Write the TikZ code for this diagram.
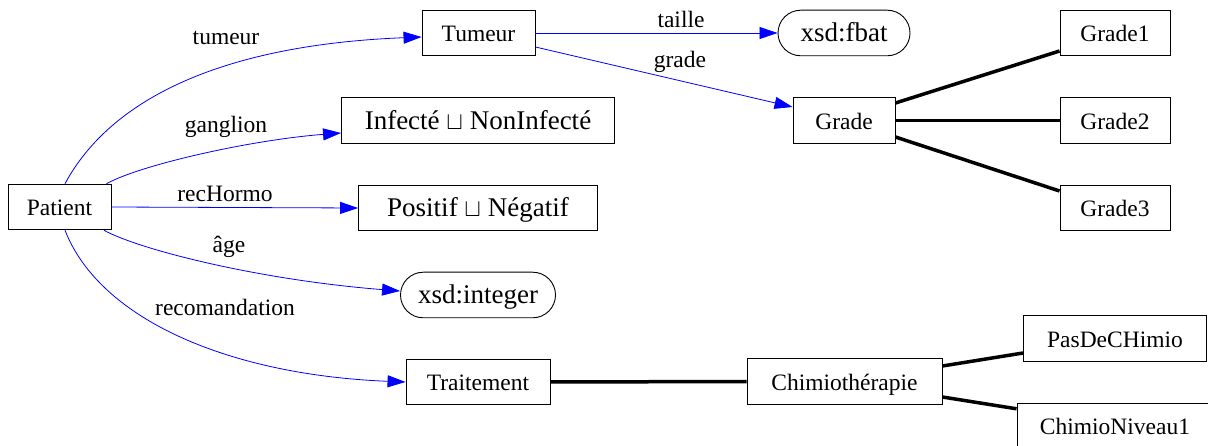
\documentclass[tikz,border=0pt]{standalone}
\usepackage{fontspec}
\setmainfont{Liberation Serif}
\usetikzlibrary{arrows.meta,calc}
\begin{document}
\begin{tikzpicture}[x=1pt,y=-1pt,
  every node/.style={font=\fontsize{23.5}{26}\selectfont, inner sep=0pt},
  box/.style={draw, line width=0.9pt, minimum height=45.6pt, text height=18pt, text depth=0pt},
  pill/.style={box, rounded corners=22.8pt},
  big/.style={font=\fontsize{27}{30}\selectfont},
  rel/.style={draw=blue, line width=0.8pt, -{Triangle[length=18pt,width=12pt]}},
  sub/.style={line width=3.5pt},
  lab/.style={anchor=base}]
\useasboundingbox (0,0) rectangle (1208,446);
\fill[white] (0,0) rectangle (1208,446);

% nodes
\node[box, minimum width=103pt] (P) at (59.5,207) {Patient};
\node[box, minimum width=113pt] (T) at (478.5,33) {Tumeur};
\node[box, big, minimum width=273pt] (I) at (478,120.5) {Infecté $\sqcup$ NonInfecté};
\node[box, big, minimum width=239pt] (S) at (478,208) {Positif $\sqcup$ Négatif};
\node[pill, big, minimum width=155pt] (N) at (478,295) {xsd:integer};
\node[box, minimum width=144pt] (R) at (478,382) {Traitement};
\node[pill, big, minimum width=132pt] (F) at (844,33) {xsd:fbat};
\node[box, minimum width=102pt] (G) at (844,120.5) {Grade};
\node[box, minimum width=195pt] (C) at (844.5,381.5) {Chimiothérapie};
\node[box, minimum width=110pt] (G1) at (1115,33) {Grade1};
\node[box, minimum width=110pt] (G2) at (1115,120.5) {Grade2};
\node[box, minimum width=110pt] (G3) at (1115,208) {Grade3};
\node[box, minimum width=183pt] (D) at (1115,338.5) {PasDeCHimio};
\node[box, minimum width=196pt] (K) at (1115,425.8) {ChimioNiveau1};

% blue relations
\draw[rel] ([xshift=5.5pt]P.north) .. controls (110,100) and (220,45) .. ([yshift=-4pt]T.west);
\draw[rel] ([xshift=-5pt]P.north east) .. controls (140,165) and (250,140) .. ([yshift=-12.5pt]I.west);
\draw[rel] (P.east) -- (S.west);
\draw[rel] ([xshift=-7.5pt]P.south east) .. controls (140,250) and (260,280) .. ([yshift=4pt]N.west);
\draw[rel] ([xshift=5.5pt]P.south) .. controls (100,320) and (230,375) .. (R.west);
\draw[rel] (T.east) -- (F.west);
\draw[rel] ([yshift=-14pt]T.east) -- ([yshift=13.5pt]G.west);

% thick subclass lines
\draw[sub] ([yshift=17.5pt]G.east) -- ([yshift=-18pt]G1.west);
\draw[sub] (G.east) -- (G2.west);
\draw[sub] ([yshift=-16.5pt]G.east) -- ([yshift=17pt]G3.west);
\draw[sub] (R.east) -- (C.west);
\draw[sub] ([yshift=15.5pt]C.east) -- ([yshift=-14.5pt]D.west);
\draw[sub] ([yshift=-15.5pt]C.east) -- ([yshift=17pt]K.west);

% labels
\node[lab] (lt) at (226,45) {tumeur};
\node[lab] (lg) at (226,133) {ganglion};
\node[lab] (lr) at (225,201.5) {recHormo};
\node[lab] (la) at (229,253) {âge};
\node[lab] (lc) at (225,316) {recomandation};
\node[lab] (ls) at (681,28) {taille};
\node[lab] (ld) at (680,68) {grade};
\end{tikzpicture}
\end{document}
